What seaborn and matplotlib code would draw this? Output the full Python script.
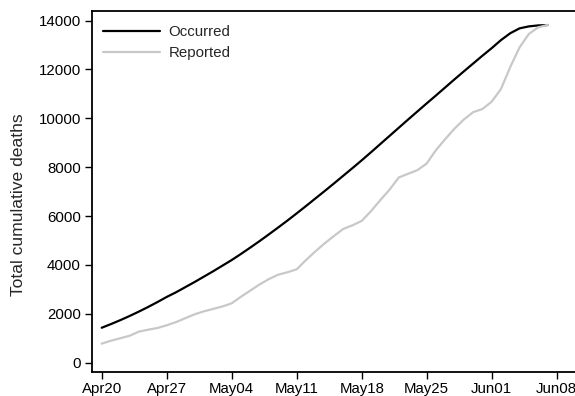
import numpy as np
import pandas as pd
import matplotlib
matplotlib.use("Agg")
import matplotlib.pyplot as plt
import matplotlib.dates as mdates
import seaborn as sns

start_date = "2020-04-20"
n_days = 49
occurred = [1430, 1580, 1740, 1910, 2090, 2280, 2480, 2690, 2880, 3090,
            3300, 3520, 3740, 3970, 4200, 4450, 4710, 4975, 5250, 5530,
            5815, 6110, 6410, 6715, 7020, 7330, 7645, 7960, 8280, 8610,
            8945, 9280, 9615, 9950, 10280, 10610, 10935, 11265, 11595, 11920,
            12240, 12560, 12870, 13200, 13480, 13680, 13760, 13800, 13815]
reported = [780, 900, 1000, 1100, 1270, 1350, 1420, 1530, 1660, 1820,
            1980, 2100, 2200, 2300, 2430, 2700, 2950, 3200, 3420, 3600,
            3700, 3820, 4200, 4550, 4880, 5180, 5470, 5620, 5800, 6200,
            6650, 7080, 7580, 7730, 7880, 8150, 8700, 9150, 9580, 9950,
            10250, 10380, 10680, 11200, 12100, 12900, 13450, 13720, 13820]
series_names = ["Occurred", "Reported"]
series_colors = ["#000000", "#c8c8c8"]
y_ticks = [0, 2000, 4000, 6000, 8000, 10000, 12000, 14000]
x_tick_dates = ["2020-04-20", "2020-04-27", "2020-05-04", "2020-05-11",
                "2020-05-18", "2020-05-25", "2020-06-01", "2020-06-08"]
y_label = "Total cumulative deaths"

dates = pd.date_range(start_date, periods=n_days, freq="D")
df = pd.DataFrame({
    "date": np.concatenate([dates, dates]),
    "deaths": occurred + reported,
    "series": [series_names[0]] * n_days + [series_names[1]] * n_days,
})

sns.set_theme(style="ticks")
plt.rcParams["font.family"] = ["Liberation Sans", "DejaVu Sans"]

fig = plt.figure(figsize=(5.75, 3.96), dpi=100)
ax = fig.add_axes([0.16, 0.0606, 0.845, 0.912])

sns.lineplot(data=df, x="date", y="deaths", hue="series",
             hue_order=series_names, palette=series_colors,
             linewidth=1.6, ax=ax)

d0 = mdates.date2num(pd.Timestamp(start_date))
ax.set_xlim(d0 - 1.045, d0 + 51.28)
ax.set_ylim(-381, 14396)
ax.set_xticks([mdates.date2num(pd.Timestamp(d)) for d in x_tick_dates])
ax.xaxis.set_major_formatter(mdates.DateFormatter("%b%d"))
ax.set_yticks(y_ticks)
ax.set_xlabel("")
ax.set_ylabel(y_label, fontsize=12.6)
ax.yaxis.set_label_coords(-0.135, 0.4626)
ax.tick_params(axis="both", labelsize=10.8, length=5, width=1, color="black",
               labelcolor="black")
ax.tick_params(axis="x", pad=2)
ax.tick_params(axis="y", pad=3)
for s in ax.spines.values():
    s.set_color("black")
    s.set_linewidth(1.3)
ax.spines["right"].set_visible(False)
ax.grid(False)

leg = ax.legend(loc="upper left", bbox_to_anchor=(0, 0.989), frameon=False,
                fontsize=10.8, handlelength=3.8, borderaxespad=0.3,
                labelspacing=0.45, handletextpad=0.6)

fig.savefig("out.png", dpi=100)
